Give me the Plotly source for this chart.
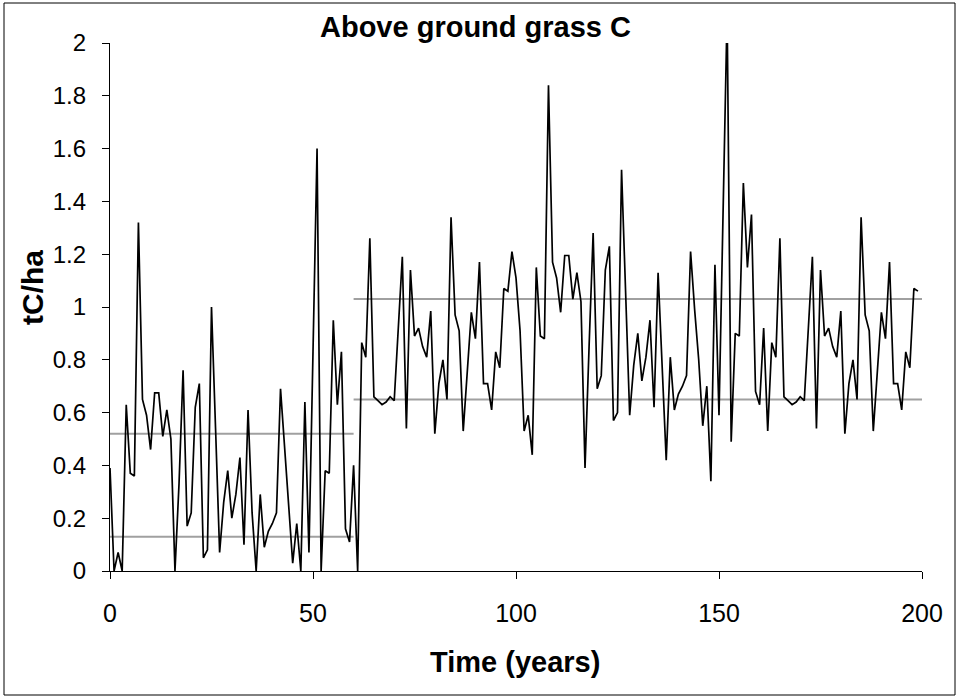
import plotly.graph_objects as go

# ---- data ----
years = list(range(0, 200))
grass_c = [
    0.39, 0, 0.07, 0, 0.63, 0.37, 0.36, 1.32, 0.65, 0.59,
    0.46, 0.675, 0.675, 0.51, 0.61, 0.50, 0, 0.33, 0.76, 0.17,
    0.22, 0.62, 0.71, 0.05, 0.08, 1.00, 0.54, 0.07, 0.26, 0.38,
    0.20, 0.29, 0.43, 0.10, 0.61, 0.22, 0, 0.29, 0.09, 0.15,
    0.18, 0.22, 0.69, 0.47, 0.28, 0.03, 0.18, 0, 0.64, 0.07,
    0.83, 1.60, 0, 0.38, 0.37, 0.95, 0.63, 0.83, 0.16, 0.11,
    0.40, 0, 0.865, 0.81, 1.26, 0.66, 0.645, 0.63, 0.64, 0.66,
    0.645, 0.90, 1.19, 0.54, 1.14, 0.89, 0.92, 0.85, 0.81, 0.985,
    0.52, 0.71, 0.80, 0.65, 1.34, 0.97, 0.91, 0.53, 0.76, 0.98,
    0.88, 1.17, 0.71, 0.71, 0.61, 0.83, 0.77, 1.07, 1.06, 1.21,
    1.11, 0.91, 0.53, 0.59, 0.44, 1.15, 0.89, 0.88, 1.84, 1.17,
    1.11, 0.98, 1.195, 1.195, 1.03, 1.13, 1.02, 0.39, 0.85, 1.28,
    0.69, 0.74, 1.14, 1.23, 0.57, 0.60, 1.52, 1.06, 0.59, 0.78,
    0.90, 0.72, 0.81, 0.95, 0.62, 1.13, 0.74, 0.42, 0.81, 0.61,
    0.67, 0.70, 0.74, 1.21, 0.99, 0.80, 0.55, 0.70, 0.34, 1.16,
    0.59, 1.35, 2.12, 0.49, 0.90, 0.89, 1.47, 1.15, 1.35, 0.68,
    0.63, 0.92, 0.53, 0.865, 0.81, 1.26, 0.66, 0.645, 0.63, 0.64,
    0.66, 0.645, 0.90, 1.19, 0.54, 1.14, 0.89, 0.92, 0.85, 0.81,
    0.985, 0.52, 0.71, 0.80, 0.65, 1.34, 0.97, 0.91, 0.53, 0.76,
    0.98, 0.88, 1.17, 0.71, 0.71, 0.61, 0.83, 0.77, 1.07, 1.06,
]

# reference level lines (grey): [x_start, x_end], level
early_x = [0, 60]
early_upper = 0.52
early_lower = 0.13
late_x = [60, 200]
late_upper = 1.03
late_lower = 0.65

title_text = "Above ground grass C"
x_title = "Time (years)"
y_title = "tC/ha"
y_tickvals = [0, 0.2, 0.4, 0.6, 0.8, 1, 1.2, 1.4, 1.6, 1.8, 2]
y_ticktext = ["0", "0.2", "0.4", "0.6", "0.8", "1", "1.2", "1.4", "1.6", "1.8", "2"]
x_tickvals = [0, 50, 100, 150, 200]

FONT = "Liberation Sans, Arial, sans-serif"
GREY = "#a0a0a0"

fig = go.Figure()
for xs, lvl in [(early_x, early_upper), (early_x, early_lower),
                (late_x, late_upper), (late_x, late_lower)]:
    fig.add_trace(go.Scatter(x=xs, y=[lvl, lvl], mode="lines",
                             line=dict(color=GREY, width=2),
                             showlegend=False, hoverinfo="skip"))

fig.add_trace(go.Scatter(x=years, y=grass_c, mode="lines",
                         line=dict(color="black", width=1.7),
                         showlegend=False))

W, H = 959, 699
L, R, T, B = 110, 37, 43, 128
pw, ph = W - L - R, H - T - B

def px_to_paper_x(px):
    return (px - L) / pw

def px_to_paper_y(py):
    return (H - B - py) / ph

fig.update_layout(
    width=W, height=H,
    margin=dict(l=L, r=R, t=T, b=B, pad=0),
    paper_bgcolor="white", plot_bgcolor="white",
    font=dict(family=FONT, color="black", size=24),
    showlegend=False,
    xaxis=dict(range=[0, 200], tickvals=x_tickvals, showgrid=False, zeroline=False,
               showline=True, linecolor="black", linewidth=1.2,
               ticks="outside", ticklen=7, tickcolor="black", tickwidth=1,
               tickfont=dict(size=25, family=FONT), ticklabelstandoff=13),
    yaxis=dict(range=[0, 2], tickvals=y_tickvals, ticktext=y_ticktext,
               showgrid=False, zeroline=False,
               showline=True, linecolor="black", linewidth=1.2,
               ticks="outside", ticklen=7, tickcolor="black", tickwidth=1,
               tickfont=dict(size=24, family=FONT), ticklabelstandoff=11),
    annotations=[
        dict(text="<b>" + title_text + "</b>", xref="paper", yref="paper",
             x=px_to_paper_x(475), y=px_to_paper_y(27), showarrow=False,
             xanchor="center", yanchor="middle", font=dict(size=29, family=FONT)),
        dict(text="<b>" + x_title + "</b>", xref="paper", yref="paper",
             x=px_to_paper_x(515), y=px_to_paper_y(662), showarrow=False,
             xanchor="center", yanchor="middle", font=dict(size=29, family=FONT)),
        dict(text="<b>" + y_title + "</b>", xref="paper", yref="paper",
             x=px_to_paper_x(32), y=px_to_paper_y(288), showarrow=False, textangle=-90,
             xanchor="center", yanchor="middle", font=dict(size=30, family=FONT)),
    ],
    shapes=[
        dict(type="rect", xref="paper", yref="paper",
             x0=px_to_paper_x(4), x1=px_to_paper_x(955),
             y0=px_to_paper_y(695), y1=px_to_paper_y(3),
             line=dict(color="black", width=1), fillcolor="rgba(0,0,0,0)", layer="below"),
    ],
)

fig.write_html("out.html", config={"displayModeBar": False},
               post_script="document.body.style.margin='0';")
